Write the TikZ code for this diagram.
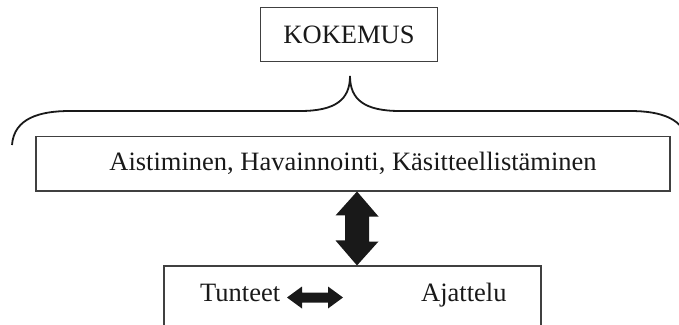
\documentclass[tikz,border=0pt]{standalone}
\usepackage{fontspec}
\setmainfont{Liberation Serif}
\begin{document}
\begin{tikzpicture}[x=1pt,y=-1pt,
  box/.style={draw=black!75,line width=1.1pt,rectangle,inner sep=0pt},
  lbl/.style={inner sep=0pt,font=\fontsize{26.5}{30}\selectfont,text=black!90},
  bracestyle/.style={line width=1.8pt,black!90},
  blockarrow/.style={fill=black!90,draw=none}]
\useasboundingbox (0,0) rectangle (679,324);
\clip (0,0) rectangle (679,324);
% boxes
\node[box,lbl,minimum width=177pt,minimum height=54.5pt] (kok) at (349,34.5) {KOKEMUS};
\node[box,lbl,minimum width=634pt,minimum height=54.5pt] (mid) at (353,163.7) {Aistiminen, Havainnointi, Käsitteellistäminen};
\node[box,minimum width=377pt,minimum height=80pt] (bot) at (352.5,306) {};
\node[lbl,anchor=base west] (tun) at (200,301) {Tunteet};
\node[lbl,anchor=base west] (aja) at (421,301) {Ajattelu};
% brace
\coordinate (bt) at (350,76);
\draw[bracestyle] (12,145) .. controls (14,118) and (40,111) .. (70,111)
  -- (300,111) .. controls (335,111) and (350,100) .. (bt)
  .. controls (350,100) and (365,111) .. (400,111)
  -- (630,111) .. controls (660,111) and (686,118) .. (688,145);
% vertical double arrow
\coordinate (va) at (357,0);
\fill[blockarrow] (mid.south -| va) -- ++(21.5,25) -- ++(-9.5,0) -- ++(0,25) -- ++(9.5,0)
  -- (bot.north -| va) -- ++(-21.5,-25) -- ++(9.5,0) -- ++(0,-25) -- ++(-9.5,0) -- cycle;
% horizontal double arrow
\coordinate (h1) at (287,297.5);
\coordinate (h2) at (343,297.5);
\fill[blockarrow] (h1) -- ++(15,-11) -- ++(0,6) -- ++(26,0) -- ++(0,-6)
  -- (h2) -- ++(-15,11) -- ++(0,-6) -- ++(-26,0) -- ++(0,6) -- cycle;
\end{tikzpicture}
\end{document}
